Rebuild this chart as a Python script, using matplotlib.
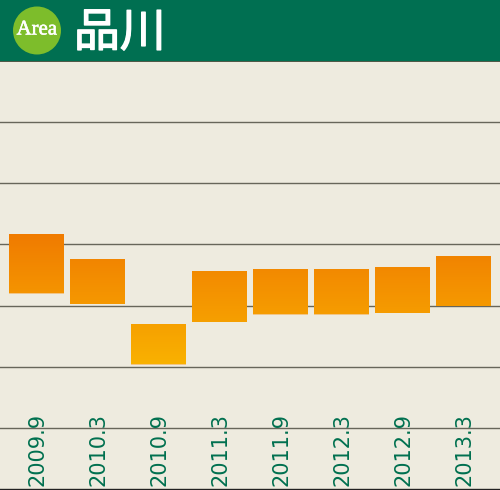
import numpy as np
import matplotlib.pyplot as plt
import matplotlib.patheffects as pe
from matplotlib.colors import LinearSegmentedColormap
from matplotlib.patches import Circle, Rectangle

periods = ['2009.9', '2010.3', '2010.9', '2011.3', '2011.9', '2012.3', '2012.9', '2013.3']
lows = [2.198, 2.034, 1.038, 1.732, 1.855, 1.855, 1.887, 1.993]
highs = [3.150, 2.755, 1.690, 2.550, 2.590, 2.590, 2.630, 2.795]
grid_levels = [0, 1, 2, 3, 4, 5]

fig = plt.figure(figsize=(5, 4.9), dpi=100, facecolor='#EEEBDF')
ax = fig.add_axes([0, 0, 1, 1])
ax.set_facecolor('#EEEBDF')
ax.set_xlim(-0.598, 7.598)
ax.set_ylim(-1.013, 6.993)
ax.axis('off')

for level in grid_levels:
    ax.axhline(level, color='#67665A', linewidth=1.0, zorder=1)
ax.axhline(-1.0, color='#222222', linewidth=1.0, zorder=1)

# gradient runs over the whole value range, not per bar
cmap = LinearSegmentedColormap.from_list('bars', ['#F9B200', '#F07A00'])
for i, (lo, hi) in enumerate(zip(lows, highs)):
    ax.bar(i, hi - lo + 0.012, bottom=lo - 0.006, width=0.9, color='#F5A030', alpha=0.5, zorder=2)
    grad = np.linspace(hi, lo, 64).reshape(-1, 1)
    ax.imshow(grad, cmap=cmap, vmin=1.0, vmax=3.2, aspect='auto',
              extent=(i - 0.45, i + 0.45, lo, hi), zorder=3)
ax.set_xlim(-0.598, 7.598)
ax.set_ylim(-1.013, 6.993)

for i, label in enumerate(periods):
    ax.text(i + 0.01, -0.955, label, rotation=90, ha='center', va='bottom', fontsize=15.0,
            color='#00704F', zorder=4)

# header band
ax.add_patch(Rectangle((0, 0.8755), 1, 0.1245, transform=ax.transAxes, color='#006F51', zorder=5, lw=0))
ax.add_patch(Rectangle((0, 0.8735), 1, 0.002, transform=ax.transAxes, color='#4E5A48', zorder=5, lw=0))
ax.add_patch(Circle((37, 459.5), 24, transform=None, color='#7DBD2B', zorder=6, lw=0))
fig.text(37 / 500, 1 - 30 / 490, 'Area', family='Liberation Serif', fontsize=15,
         color='white', ha='center', va='center', zorder=7,
         path_effects=[pe.withStroke(linewidth=0.4, foreground='white')])
fig.text(74 / 500, 1 - 33 / 490, '品川', family='Noto Sans CJK JP', fontsize=33,
         color='white', ha='left', va='center', zorder=7,
         path_effects=[pe.withStroke(linewidth=1.0, foreground='white')])

fig.savefig('out.png', dpi=100, facecolor=fig.get_facecolor())
